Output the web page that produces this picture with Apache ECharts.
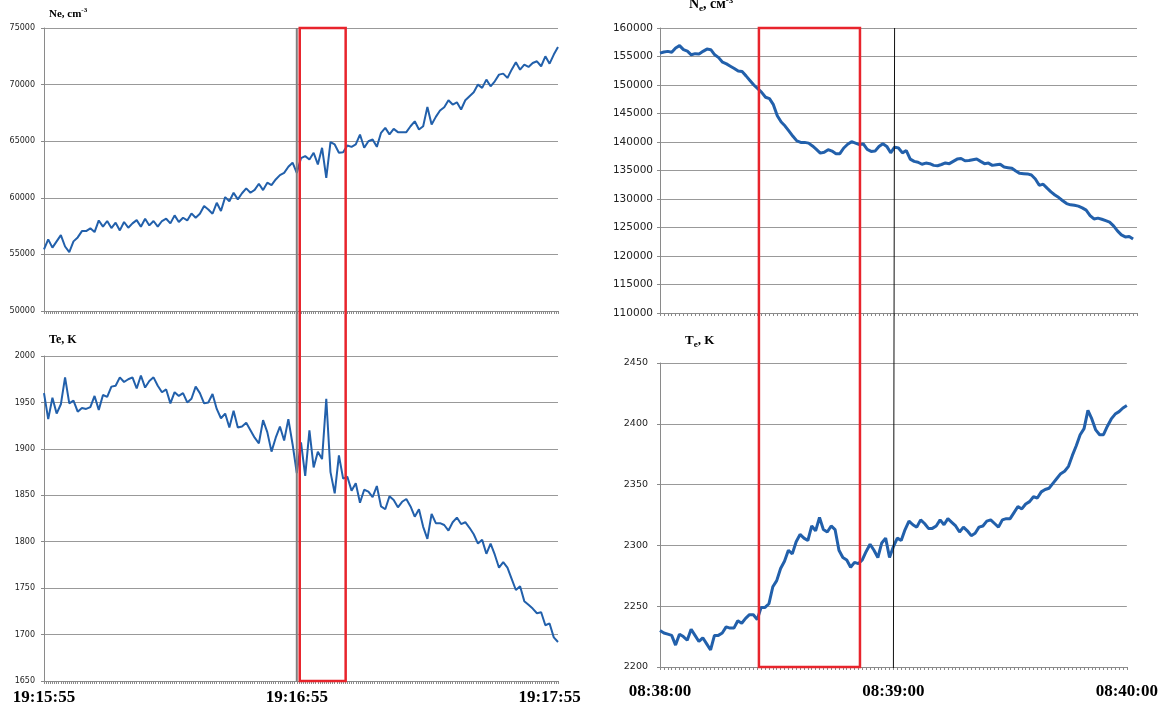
<!DOCTYPE html>
<html><head><meta charset="utf-8">
<script src="https://cdn.jsdelivr.net/npm/echarts@6/dist/echarts.min.js"></script>
<style>html,body{margin:0;padding:0;background:#fff}#c{width:1161px;height:707px}</style>
</head><body><div id="c"></div><script>
// ---- data (1 sample per second) ----
const leftStart = '19:15:55';
const rightStart = '08:38:00';
const leftNe = [
55450,56330,55600,56150,56700,55700,55200,56150,56500,57060,
57060,57300,56970,58000,57450,57950,57330,57800,57120,57860,
57360,57740,58030,57450,58150,57560,57950,57450,57950,58150,
57740,58450,57860,58240,58000,58620,58240,58590,59270,58970,
58590,59560,58830,60060,59700,60450,59860,60400,60830,60450,
60700,61240,60680,61330,61120,61620,62000,62200,62740,63100,
62200,63500,63680,63390,63980,62950,64420,61770,64910,64710,
63980,64030,64620,64500,64710,65590,64420,65000,65150,64500,
65740,66180,65600,66090,65800,65800,65800,66320,66760,66030,
66320,68030,66470,67150,67710,68000,68620,68240,68440,67800,
68620,68970,69320,70000,69710,70440,69850,70290,70880,70970,
70590,71320,71970,71320,71760,71560,71910,72060,71620,72500,
71850,72650,73320];
const leftTe = [
1960,1932,1955,1938,1948,1977,1949,1952,1940,1944,
1943,1945,1957,1942,1958,1956,1967,1968,1977,1972,
1975,1977,1965,1979,1966,1973,1977,1968,1961,1964,
1949,1961,1957,1960,1950,1954,1967,1960,1949,1950,
1959,1943,1933,1938,1923,1941,1923,1924,1928,1920,
1912,1906,1931,1918,1897,1912,1924,1909,1932,1905,
1874,1907,1871,1920,1880,1897,1889,1954,1875,1852,
1893,1868,1870,1855,1863,1842,1856,1854,1848,1860,
1838,1835,1849,1845,1837,1843,1846,1838,1827,1835,
1816,1803,1830,1820,1820,1818,1812,1821,1826,1819,
1821,1815,1808,1798,1802,1787,1798,1786,1772,1778,
1772,1760,1748,1752,1736,1732,1728,1723,1724,1710,
1712,1697,1692];
const rightNe = [
155600,155800,155900,155750,156500,156900,156200,155950,155300,155500,
155450,155900,156300,156200,155300,154800,154000,153700,153300,152900,
152450,152350,151600,150800,150000,149350,148700,147850,147600,146550,
144600,143500,142800,141900,141000,140200,139930,139930,139800,139300,
138700,138050,138200,138650,138400,137950,137950,138950,139600,140050,
139800,139550,139650,138700,138350,138400,139200,139700,139230,138100,
139100,138950,138100,138500,137000,136600,136450,136100,136300,136200,
135900,135840,136050,136320,136200,136600,137000,137100,136720,136750,
136900,137020,136600,136200,136300,135900,136000,136100,135600,135500,
135400,134900,134500,134450,134400,134200,133500,132400,132600,131900,
131250,130700,130250,129700,129200,128980,128900,128750,128450,128050,
127100,126500,126650,126450,126200,125950,125300,124400,123700,123350,
123440,123000];
const rightTe = [
2230,2228,2227,2226,2218,2227,2225,2222,2231,2226,
2221,2224,2219,2214,2226,2226,2228,2233,2232,2232,
2238,2236,2240,2243,2243,2239,2249,2249,2252,2266,
2271,2281,2287,2296,2293,2303,2309,2306,2304,2316,
2312,2323,2313,2311,2316,2313,2296,2290,2288,2282,
2286,2285,2288,2295,2301,2296,2290,2302,2306,2290,
2299,2306,2304,2313,2320,2317,2315,2321,2318,2314,
2314,2316,2321,2317,2322,2319,2316,2311,2315,2312,
2308,2310,2315,2316,2320,2321,2318,2315,2321,2322,
2322,2327,2332,2330,2334,2336,2340,2339,2344,2346,
2347,2351,2355,2359,2361,2365,2374,2382,2391,2396,
2411,2404,2395,2391,2391,2398,2404,2408,2410,2413,2415];
// annotation positions (seconds from start)
const leftBand = [60.7, 71.6], leftMark = 60;
const rightBand = [25.3, 51.4], rightMark = 60;

const pairs = arr => arr.map((v, i) => [i, v]);
function timeFmt(start) {
  const [h, m, s] = start.split(':').map(Number);
  const base = h * 3600 + m * 60 + s;
  const p = n => String(n).padStart(2, '0');
  return v => {
    if (Math.abs(v / 60 - Math.round(v / 60)) > 1e-6) return '';
    const t = base + Math.round(v);
    return p(Math.floor(t / 3600) % 24) + ':' + p(Math.floor(t / 60) % 60) + ':' + p(t % 60);
  };
}
const GRAY = '#8a8a8a';
function xAx(gi, max, interval, start, showLabel, margin) {
  return {type: 'value', gridIndex: gi, min: 0, max, interval,
    axisLine: {show: true, lineStyle: {color: GRAY, width: 1}},
    axisTick: {show: true, length: 3, lineStyle: {color: GRAY}},
    splitLine: {show: false},
    axisLabel: {show: showLabel, formatter: timeFmt(start), margin, color: '#000',
      fontFamily: 'Liberation Serif', fontWeight: 'bold', fontSize: 17}};
}
function yAx(gi, min, max, interval, fontSize, margin) {
  return {type: 'value', gridIndex: gi, min, max, interval,
    axisLine: {show: true, lineStyle: {color: GRAY}},
    axisTick: {show: true, length: 3, lineStyle: {color: GRAY}},
    splitLine: {show: true, lineStyle: {color: '#999', width: 1}},
    axisLabel: {fontFamily: 'DejaVu Sans', fontSize, color: '#222', margin, formatter: v => String(v)}};
}
const BLUE = '#2260ab';
const ser = (i, data, w) => ({type: 'line', xAxisIndex: i, yAxisIndex: i, data: pairs(data),
  showSymbol: false, symbol: 'none', lineStyle: {color: BLUE, width: w}, itemStyle: {color: BLUE}});

const chart = echarts.init(document.getElementById('c'), null, {renderer: 'canvas'});
chart.setOption({
  animation: false,
  backgroundColor: '#fff',
  grid: [
    {left: 44, top: 28, width: 514, height: 283},
    {left: 44, top: 356, width: 514, height: 325},
    {left: 660, top: 28, width: 477, height: 285},
    {left: 660, top: 363, width: 469, height: 304}
  ],
  xAxis: [
    xAx(0, 122, 0.5, leftStart, false, 8),
    xAx(1, 122, 0.5, leftStart, true, 8),
    xAx(2, 122, 1, rightStart, false, 14),
    xAx(3, 120, 1, rightStart, true, 16)
  ],
  yAxis: [
    yAx(0, 50000, 75000, 5000, 8, 9),
    yAx(1, 1650, 2000, 50, 8, 9),
    yAx(2, 110000, 160000, 5000, 10.5, 7),
    yAx(3, 2200, 2450, 50, 9.5, 12)
  ],
  series: [ser(0, leftNe, 2), ser(1, leftTe, 2), ser(2, rightNe, 3), ser(3, rightTe, 3)]
});

const px = (gi, x, y) => chart.convertToPixel({gridIndex: gi}, [x, y]);
const lb0 = px(0, leftBand[0], 75000), lb1 = px(1, leftBand[1], 1650);
const lm0 = px(0, leftMark, 75000), lm1 = px(1, leftMark, 1650);
const rb0 = px(2, rightBand[0], 160000), rb1 = px(3, rightBand[1], 2200);
const rm0 = px(2, rightMark, 160000), rm1 = px(3, rightMark, 2200);
const serif = 'Liberation Serif';
chart.setOption({graphic: [
  {type: 'line', z: 100, shape: {x1: lm0[0], y1: lm0[1], x2: lm1[0], y2: lm1[1] + 1}, style: {stroke: '#808080', lineWidth: 2}},
  {type: 'line', z: 100, shape: {x1: rm0[0], y1: rm0[1], x2: rm1[0], y2: rm1[1] + 1}, style: {stroke: '#111', lineWidth: 1}},
  {type: 'rect', z: 101, shape: {x: lb0[0], y: lb0[1], width: lb1[0] - lb0[0], height: lb1[1] - lb0[1]}, style: {fill: 'none', stroke: '#e8242c', lineWidth: 2.5}},
  {type: 'rect', z: 101, shape: {x: rb0[0], y: rb0[1], width: rb1[0] - rb0[0], height: rb1[1] - rb0[1]}, style: {fill: 'none', stroke: '#e8242c', lineWidth: 2.5}},
  {type: 'text', z: 102, x: 49, y: 7, style: {text: '{b|Ne, cm}{s|-3}',
    rich: {b: {fontFamily: serif, fontWeight: 'bold', fontSize: 11, lineHeight: 14, fill: '#000'},
           s: {fontFamily: serif, fontWeight: 'bold', fontSize: 7, lineHeight: 14, verticalAlign: 'top', fill: '#000'}}}},
  {type: 'text', z: 102, x: 49, y: 334, style: {text: 'Te, K', fontFamily: serif, fontWeight: 'bold', fontSize: 12, fill: '#000'}},
  {type: 'text', z: 102, x: 689, y: -4, style: {text: '{b|N}{sub|e}{b|, см}{s|-3}',
    rich: {b: {fontFamily: serif, fontWeight: 'bold', fontSize: 14, lineHeight: 17, fill: '#000'},
           sub: {fontFamily: serif, fontWeight: 'bold', fontSize: 9, lineHeight: 17, verticalAlign: 'bottom', fill: '#000'},
           s: {fontFamily: serif, fontWeight: 'bold', fontSize: 9, lineHeight: 17, verticalAlign: 'top', fill: '#000'}}}},
  {type: 'text', z: 102, x: 685, y: 333, style: {text: '{b|T}{sub|e}{b|, K}',
    rich: {b: {fontFamily: serif, fontWeight: 'bold', fontSize: 13, lineHeight: 16, fill: '#000'},
           sub: {fontFamily: serif, fontWeight: 'bold', fontSize: 9, lineHeight: 16, verticalAlign: 'bottom', fill: '#000'}}}}
]});
</script></body></html>
